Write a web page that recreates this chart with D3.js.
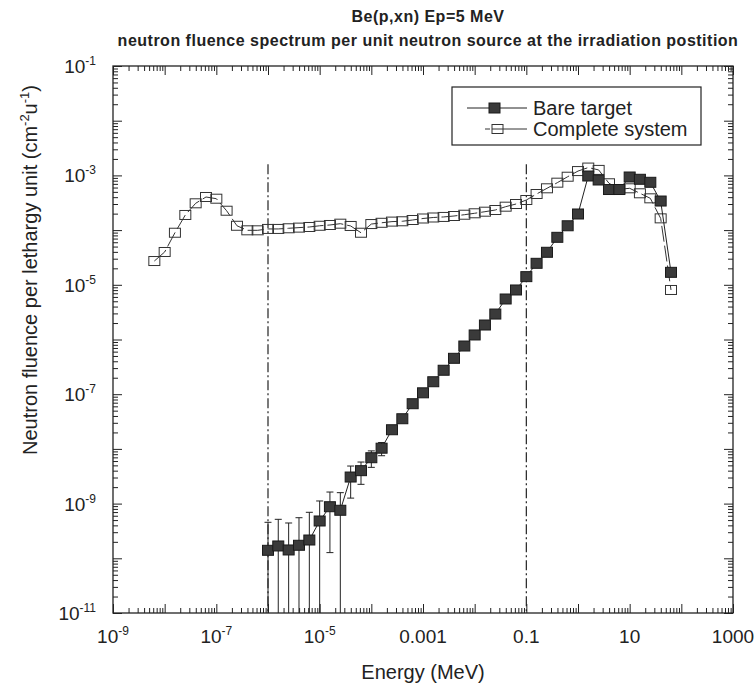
<!DOCTYPE html>
<html>
<head>
<meta charset="utf-8">
<script src="https://cdn.jsdelivr.net/npm/d3@7"></script>
<style>
  body { margin: 0; background: #fff; }
  svg { display: block; font-family: "Liberation Sans", Arial, sans-serif; }
</style>
</head>
<body>
<div id="chart"></div>
<script>
//Neutron fluence spectrum, Be(p,xn)
(function() {
	"use strict";

	// energy grid (MeV), 5 points per decade
	var energies = [
		6.31e-9, 1.0e-8, 1.58e-8, 2.51e-8, 3.98e-8, 6.31e-8, 1.0e-7, 1.58e-7, 2.51e-7, 3.98e-7, 6.31e-7,
		1.0e-6, 1.58e-6, 2.51e-6, 3.98e-6, 6.31e-6, 1.0e-5, 1.58e-5, 2.51e-5, 3.98e-5, 6.31e-5,
		1.0e-4, 1.58e-4, 2.51e-4, 3.98e-4, 6.31e-4, 1.0e-3, 1.58e-3, 2.51e-3, 3.98e-3, 6.31e-3,
		1.0e-2, 1.58e-2, 2.51e-2, 3.98e-2, 6.31e-2, 0.1, 0.158, 0.251, 0.398, 0.631,
		1.0, 1.58, 2.51, 3.98, 6.31, 10, 15.8, 25.1, 39.8, 63.1
	];
	var completeSystem = [
		2.72e-5, 3.98e-5, 8.95e-5, 1.89e-4, 3.09e-4, 4.03e-4, 3.75e-4, 2.26e-4, 1.20e-4, 9.91e-5, 9.91e-5,
		1.05e-4, 1.05e-4, 1.08e-4, 1.11e-4, 1.14e-4, 1.20e-4, 1.24e-4, 1.31e-4, 1.19e-4, 8.95e-5,
		1.29e-4, 1.36e-4, 1.43e-4, 1.45e-4, 1.53e-4, 1.63e-4, 1.70e-4, 1.74e-4, 1.81e-4, 1.91e-4,
		2.03e-4, 2.17e-4, 2.33e-4, 2.68e-4, 3.00e-4, 3.55e-4, 4.57e-4, 5.81e-4, 7.36e-4, 9.46e-4,
		1.20e-3, 1.39e-3, 1.26e-3, 7.18e-4, 5.57e-4, 5.81e-4, 4.71e-4, 3.81e-4, 1.64e-4, 8.04e-6
	];
	// bare target starts at 1e-6 MeV
	var bareEnergies = energies.slice(11);
	var bareTarget = [
		1.40e-10, 1.68e-10, 1.42e-10, 1.73e-10, 2.16e-10, 4.81e-10, 8.77e-10, 7.55e-10, 3.06e-9, 4.00e-9,
		6.90e-9, 1.03e-8, 2.24e-8, 3.56e-8, 6.70e-8, 1.06e-7, 1.69e-7, 2.74e-7, 4.53e-7, 7.60e-7,
		1.21e-6, 1.84e-6, 2.92e-6, 5.50e-6, 8.04e-6, 1.41e-5, 2.47e-5, 3.93e-5, 7.38e-5, 1.20e-4,
		1.97e-4, 9.75e-4, 8.24e-4, 5.52e-4, 5.52e-4, 9.35e-4, 8.49e-4, 7.48e-4, 3.40e-4, 1.69e-5
	];
	// statistical error (1 sigma) of the bare target, first points only
	var bareError = [
		3.15e-10, 3.48e-10, 3.0e-10, 3.79e-10, 4.77e-10, 6.36e-10, 7.5e-10, 8.3e-10, 1.8e-9, 1.75e-9,
		2.3e-9, 2.8e-9, 3.0e-9
	];

	var refLines = [1e-6, 0.1];
	var refTop = 1.6e-3;

	var xTicks = [1e-9, 1e-7, 1e-5, 1e-3, 1e-1, 10, 1000];
	var xTickLabels = [["10", "-9"], ["10", "-7"], ["10", "-5"], ["0.001", ""], ["0.1", ""], ["10", ""], ["1000", ""]];
	var yTicks = [1e-1, 1e-3, 1e-5, 1e-7, 1e-9, 1e-11];
	var yTickLabels = [["10", "-1"], ["10", "-3"], ["10", "-5"], ["10", "-7"], ["10", "-9"], ["10", "-11"]];

	var titleLines = ["Be(p,xn) Ep=5 MeV", "neutron fluence spectrum per unit neutron source at the irradiation postition"];
	var seriesNames = ["Bare target", "Complete system"];

	var W = 755, H = 689,
	left = 113, right = 733, top = 66, bottom = 613;

	var x = d3.scaleLog().domain([1e-9, 1e3]).range([left, right]);
	var y = d3.scaleLog().domain([1e-11, 1e-1]).range([bottom, top]);

	function decades(lo, hi) {
		var major = [], minor = [];
		for (var d = lo; d <= hi; d++) {
			major.push(Math.pow(10, d));
			if (d < hi) {
				for (var m = 2; m <= 9; m++) { minor.push(m * Math.pow(10, d)); }
			}
		}
		return {major: major, minor: minor};
	}
	var xt = decades(-9, 3), yt = decades(-11, -1);

	var svg = d3.select("#chart").append("svg")
		.attr("width", W)
		.attr("height", H);

	svg.append("defs").append("clipPath").attr("id", "plotclip")
		.append("rect")
		.attr("x", left).attr("y", top)
		.attr("width", right - left).attr("height", bottom - top);

	// title
	svg.selectAll("text.title").data(titleLines)
		.enter().append("text")
		.attr("class", "title")
		.attr("x", 428)
		.attr("y", function(d, i) { return 22 + i * 24; })
		.attr("text-anchor", "middle")
		.attr("font-weight", "bold")
		.attr("font-size", 16)
		.attr("letter-spacing", 0.5)
		.attr("fill", "#222")
		.text(function(d) { return d; });

	// ticks, inward on all four sides
	function tickAxis(axisFn, scale, values, size, tx, ty) {
		svg.append("g")
			.attr("transform", "translate(" + tx + "," + ty + ")")
			.call(axisFn(scale).tickValues(values).tickSize(-size).tickFormat(""))
			.call(function(g) { g.select(".domain").remove(); })
			.selectAll("line").attr("stroke", "#222").attr("stroke-width", 1);
	}
	tickAxis(d3.axisBottom, x, xt.major, 9, 0, bottom);
	tickAxis(d3.axisBottom, x, xt.minor, 5, 0, bottom);
	tickAxis(d3.axisTop, x, xt.major, 9, 0, top);
	tickAxis(d3.axisTop, x, xt.minor, 5, 0, top);
	tickAxis(d3.axisLeft, y, yt.major, 9, left, 0);
	tickAxis(d3.axisLeft, y, yt.minor, 5, left, 0);
	tickAxis(d3.axisRight, y, yt.major, 9, right, 0);
	tickAxis(d3.axisRight, y, yt.minor, 5, right, 0);

	svg.append("rect")
		.attr("x", left).attr("y", top)
		.attr("width", right - left).attr("height", bottom - top)
		.attr("fill", "none")
		.attr("stroke", "#222")
		.attr("stroke-width", 1.3);

	// tick labels
	var xl = svg.selectAll("text.xlab").data(xTicks)
		.enter().append("text")
		.attr("class", "xlab")
		.attr("x", function(d) { return x(d); })
		.attr("y", 643)
		.attr("text-anchor", "middle")
		.attr("font-size", 19)
		.attr("fill", "#222");
	xl.append("tspan").text(function(d, i) { return xTickLabels[i][0]; });
	xl.append("tspan").attr("dy", -8).attr("font-size", 12)
		.text(function(d, i) { return xTickLabels[i][1]; });

	var yl = svg.selectAll("text.ylab").data(yTicks)
		.enter().append("text")
		.attr("class", "ylab")
		.attr("x", 96)
		.attr("y", function(d) { return y(d) + 7; })
		.attr("text-anchor", "end")
		.attr("font-size", 19)
		.attr("fill", "#222");
	yl.append("tspan").text(function(d, i) { return yTickLabels[i][0]; });
	yl.append("tspan").attr("dy", -8).attr("font-size", 12)
		.text(function(d, i) { return yTickLabels[i][1]; });

	// axis titles
	svg.append("text")
		.attr("x", (left + right) / 2)
		.attr("y", 679)
		.attr("text-anchor", "middle")
		.attr("font-size", 20)
		.attr("fill", "#222")
		.text("Energy (MeV)");

	var yt2 = svg.append("text")
		.attr("transform", "translate(37,270) rotate(-90)")
		.attr("text-anchor", "middle")
		.attr("font-size", 20)
		.attr("fill", "#222");
	yt2.append("tspan").text("Neutron fluence per lethargy unit (cm");
	yt2.append("tspan").attr("dy", -8).attr("font-size", 13).text("-2");
	yt2.append("tspan").attr("dy", 8).text("u");
	yt2.append("tspan").attr("dy", -8).attr("font-size", 13).text("-1");
	yt2.append("tspan").attr("dy", 8).text(")");

	var plot = svg.append("g").attr("clip-path", "url(#plotclip)");

	// dash-dot reference lines
	plot.selectAll("line.ref").data(refLines)
		.enter().append("line")
		.attr("class", "ref")
		.attr("x1", function(d) { return x(d); })
		.attr("x2", function(d) { return x(d); })
		.attr("y1", y(refTop))
		.attr("y2", bottom)
		.attr("stroke", "#222")
		.attr("stroke-width", 1.2)
		.attr("stroke-dasharray", "10,3,2,3");

	var line = d3.line()
		.x(function(d) { return x(d[0]); })
		.y(function(d) { return y(d[1]); });

	var complete = d3.zip(energies, completeSystem);
	var bare = d3.zip(bareEnergies, bareTarget);

	// complete system: open squares
	plot.append("path")
		.datum(complete)
		.attr("d", line)
		.attr("fill", "none")
		.attr("stroke", "#333")
		.attr("stroke-width", 1)
		.attr("stroke-dasharray", "16,4");
	plot.selectAll("rect.open").data(complete)
		.enter().append("rect")
		.attr("class", "open")
		.attr("x", function(d) { return x(d[0]) - 5.5; })
		.attr("y", function(d) { return y(d[1]) - 4.5; })
		.attr("width", 11).attr("height", 9)
		.attr("fill", "none")
		.attr("stroke", "#333")
		.attr("stroke-width", 1);

	// bare target: error bars, line, filled squares
	var errs = bare.slice(0, bareError.length);
	var eb = plot.selectAll("g.err").data(errs)
		.enter().append("g").attr("class", "err")
		.attr("stroke", "#222").attr("stroke-width", 1);
	function hi(d, i) { return y(d[1] + bareError[i]); }
	function lo(d, i) {
		var v = d[1] - bareError[i];
		return v > 1e-11 ? y(v) : bottom + 5;
	}
	eb.append("line")
		.attr("x1", function(d) { return x(d[0]); })
		.attr("x2", function(d) { return x(d[0]); })
		.attr("y1", hi).attr("y2", lo);
	eb.append("line")
		.attr("x1", function(d) { return x(d[0]) - 3.5; })
		.attr("x2", function(d) { return x(d[0]) + 3.5; })
		.attr("y1", hi).attr("y2", hi);
	eb.append("line")
		.attr("x1", function(d) { return x(d[0]) - 3.5; })
		.attr("x2", function(d) { return x(d[0]) + 3.5; })
		.attr("y1", lo).attr("y2", lo);

	plot.append("path")
		.datum(bare)
		.attr("d", line)
		.attr("fill", "none")
		.attr("stroke", "#222")
		.attr("stroke-width", 1);
	plot.selectAll("rect.filled").data(bare)
		.enter().append("rect")
		.attr("class", "filled")
		.attr("x", function(d) { return x(d[0]) - 5.5; })
		.attr("y", function(d) { return y(d[1]) - 5; })
		.attr("width", 11).attr("height", 10)
		.attr("fill", "#3a3a3a")
		.attr("stroke", "#1a1a1a")
		.attr("stroke-width", 1);

	// legend
	var lg = svg.append("g");
	lg.append("rect")
		.attr("x", 452).attr("y", 87)
		.attr("width", 249).attr("height", 58)
		.attr("fill", "#fff")
		.attr("stroke", "#222")
		.attr("stroke-width", 1.2);
	lg.append("line")
		.attr("x1", 467).attr("x2", 527).attr("y1", 108).attr("y2", 108)
		.attr("stroke", "#222");
	lg.append("rect")
		.attr("x", 489).attr("y", 103).attr("width", 11).attr("height", 10)
		.attr("fill", "#3a3a3a").attr("stroke", "#1a1a1a");
	lg.append("line")
		.attr("x1", 485).attr("x2", 527).attr("y1", 129).attr("y2", 129)
		.attr("stroke", "#333")
		.attr("stroke-dasharray", "5,3,40");
	lg.append("rect")
		.attr("x", 492).attr("y", 124.5).attr("width", 11).attr("height", 9)
		.attr("fill", "#fff").attr("stroke", "#333");
	lg.append("line")
		.attr("x1", 492).attr("x2", 503).attr("y1", 129).attr("y2", 129)
		.attr("stroke", "#333");
	lg.selectAll("text").data(seriesNames)
		.enter().append("text")
		.attr("x", 533)
		.attr("y", function(d, i) { return 115 + i * 21; })
		.attr("font-size", 20)
		.attr("fill", "#222")
		.text(function(d) { return d; });
}());
</script>
</body>
</html>
